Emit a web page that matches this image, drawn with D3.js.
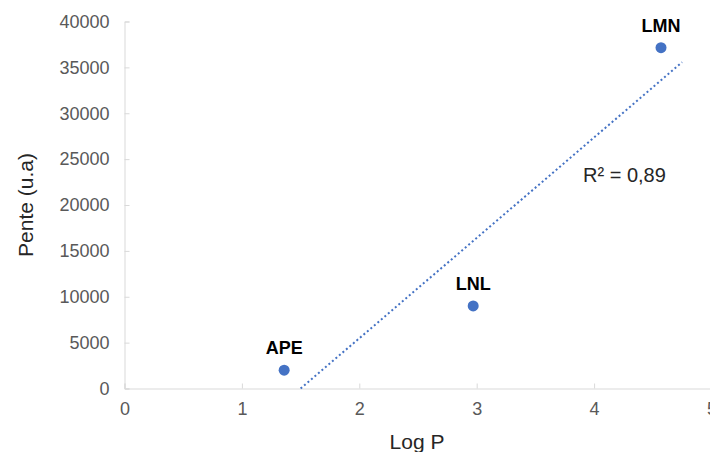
<!DOCTYPE html>
<html><head><meta charset="utf-8">
<script src="https://cdn.jsdelivr.net/npm/d3@7"></script>
<style>html,body{margin:0;padding:0;background:#fff;}svg{display:block;}</style>
</head><body>
<script>
const labels = ["APE", "LNL", "LMN"];
const logP = [1.36, 2.97, 4.57];
const pente = [2000, 9000, 37150];
const xTicks = [0, 1, 2, 3, 4, 5];
const yTicks = [0, 5000, 10000, 15000, 20000, 25000, 30000, 35000, 40000];
const trendEnd = 4.75;
const r2Label = "R² = 0,89";

const W = 710, H = 452;
const svg = d3.select("body").append("svg").attr("width", W).attr("height", H);
const x = d3.scaleLinear().domain([0, 5]).range([124.5, 711.5]);
const y = d3.scaleLinear().domain([0, 40000]).range([388.5, 21.5]);
const font = "'Liberation Sans', Arial, sans-serif";
const axisCol = "#d9d9d9";

// axes
const xa = svg.append("g").attr("transform", `translate(0,${y(0)})`)
  .call(d3.axisBottom(x).tickValues(xTicks).tickSize(-5).tickPadding(14).tickFormat(d3.format("d")));
const ya = svg.append("g").attr("transform", `translate(${x(0)},0)`)
  .call(d3.axisLeft(y).tickValues(yTicks).tickSize(-5).tickPadding(15).tickFormat(d3.format("d")));
[xa, ya].forEach(g => {
  g.select(".domain").attr("stroke", axisCol).attr("stroke-width", 1);
  g.selectAll(".tick line").attr("stroke", axisCol);
  g.selectAll(".tick text").attr("fill", "#595959").style("font-family", font).style("font-size", "18px");
});
xa.selectAll(".tick text").attr("dy", "0.71em");

// trendline (least squares)
const n = logP.length;
const mx = d3.mean(logP), my = d3.mean(pente);
let sxy = 0, sxx = 0;
for (let i = 0; i < n; i++) { sxy += (logP[i]-mx)*(pente[i]-my); sxx += (logP[i]-mx)**2; }
const slope = sxy / sxx, icpt = my - slope * mx;
const xStart = Math.max(0, -icpt / slope);
svg.append("line")
  .attr("x1", x(xStart)).attr("y1", y(slope*xStart+icpt))
  .attr("x2", x(trendEnd)).attr("y2", y(slope*trendEnd+icpt))
  .attr("stroke", "#4472C4").attr("stroke-width", 2)
  .attr("stroke-dasharray", "2,2.6");

// points
svg.selectAll("circle.pt").data(logP).enter().append("circle")
  .attr("class", "pt")
  .attr("cx", (d) => x(d)).attr("cy", (d, i) => y(pente[i]))
  .attr("r", 5.5).attr("fill", "#4472C4");

// point labels
svg.selectAll("text.lbl").data(labels).enter().append("text")
  .attr("class", "lbl")
  .attr("x", (d, i) => x(logP[i])).attr("y", (d, i) => y(pente[i]) - 16)
  .attr("text-anchor", "middle")
  .style("font-family", font).style("font-size", "18px").style("font-weight", "bold")
  .attr("fill", "#000").text(d => d);

// R2
svg.append("text").attr("x", 583).attr("y", 182)
  .style("font-family", font).style("font-size", "20px").attr("fill", "#262626").text(r2Label);

// axis titles
svg.append("text").attr("x", 417).attr("y", 449).attr("text-anchor", "middle")
  .style("font-family", font).style("font-size", "21px").attr("fill", "#262626").text("Log P");
svg.append("text").attr("transform", "translate(33,205) rotate(-90)").attr("text-anchor", "middle")
  .style("font-family", font).style("font-size", "21px").attr("fill", "#262626").text("Pente (u.a)");
</script>
</body></html>
